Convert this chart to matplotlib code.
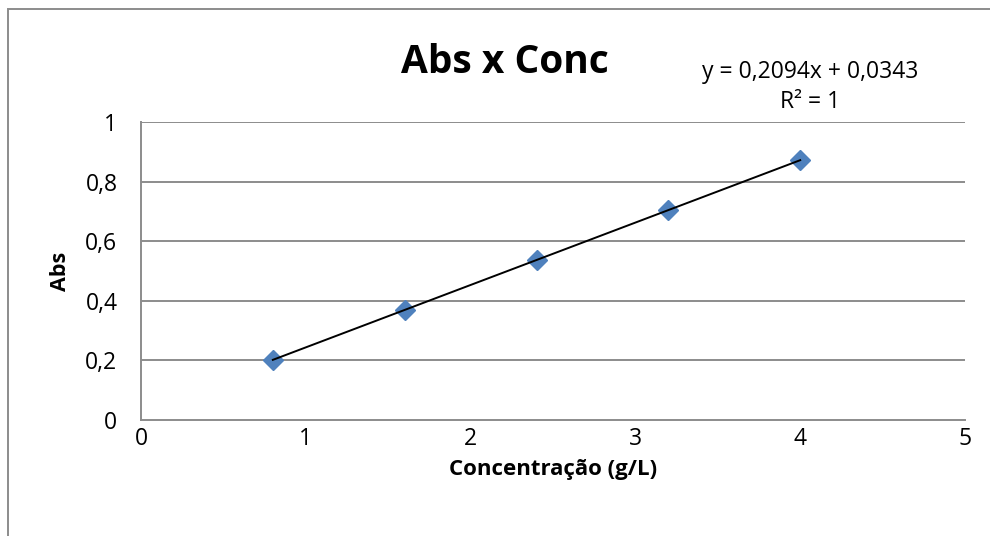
import matplotlib
matplotlib.use("Agg")
import matplotlib.pyplot as plt
import numpy as np
from matplotlib.patches import Rectangle
from matplotlib.ticker import FuncFormatter

plt.rcParams['font.family'] = ['Open Sans', 'DejaVu Sans']

conc = [0.8, 1.6, 2.4, 3.2, 4.0]
absv = [0.2018, 0.3693, 0.5369, 0.7044, 0.8719]
slope = 0.2094
intercept = 0.0343
xticks = [0, 1, 2, 3, 4, 5]
yticks = [0, 0.2, 0.4, 0.6, 0.8, 1.0]

W, H = 990, 536
fig = plt.figure(figsize=(W/100, H/100), dpi=100)
ax = fig.add_axes([141/W, 1-420/H, (965-141)/W, (420-122)/H])

grid_c = '#8c8c8c'
for yv in yticks[1:]:
    ax.axhline(yv, color=grid_c, lw=1.4, zorder=1)

xs = np.array([conc[0], conc[-1]])
ax.plot(xs, slope*xs + intercept, color='black', lw=1.4, zorder=3)
ax.plot(conc, absv, linestyle='none', marker='D', markersize=10.5,
        color='#4F81BD', markeredgecolor='#4F81BD', zorder=2)

ax.set_xlim(0, 5)
ax.set_ylim(0, 1)
ax.set_xticks(xticks)
ax.set_yticks(yticks)
fmt = FuncFormatter(lambda v, p: ('%g' % v).replace('.', ','))
ax.xaxis.set_major_formatter(fmt)
ax.yaxis.set_major_formatter(fmt)
ax.tick_params(length=0, labelsize=16.5, colors='black')
ax.tick_params(axis='y', pad=17)
ax.tick_params(axis='x', pad=5)
for s in ['top', 'right']:
    ax.spines[s].set_visible(False)
for s in ['left', 'bottom']:
    ax.spines[s].set_color(grid_c)
    ax.spines[s].set_linewidth(1.4)

ax.set_xlabel('Concentração (g/L)', fontsize=16, fontweight='bold', labelpad=6)
ax.set_ylabel('Abs', fontsize=15.5, fontweight='bold', labelpad=10)

fig.text(505/W, 1-62/H, 'Abs x Conc', fontsize=28, fontweight='bold',
         ha='center', va='center')
fig.text(810/W, 1-72/H, 'y = 0,2094x + 0,0343', fontsize=16.5, ha='center', va='center')
fig.text(810/W, 1-102/H, 'R² = 1', fontsize=16.5, ha='center', va='center')

fig.patches.append(Rectangle((8/W, -0.2), 2, 1.2 - 9/H, transform=fig.transFigure,
                             fill=False, edgecolor='#8c8c8c', lw=1.4))

fig.savefig('out.png', dpi=100)
